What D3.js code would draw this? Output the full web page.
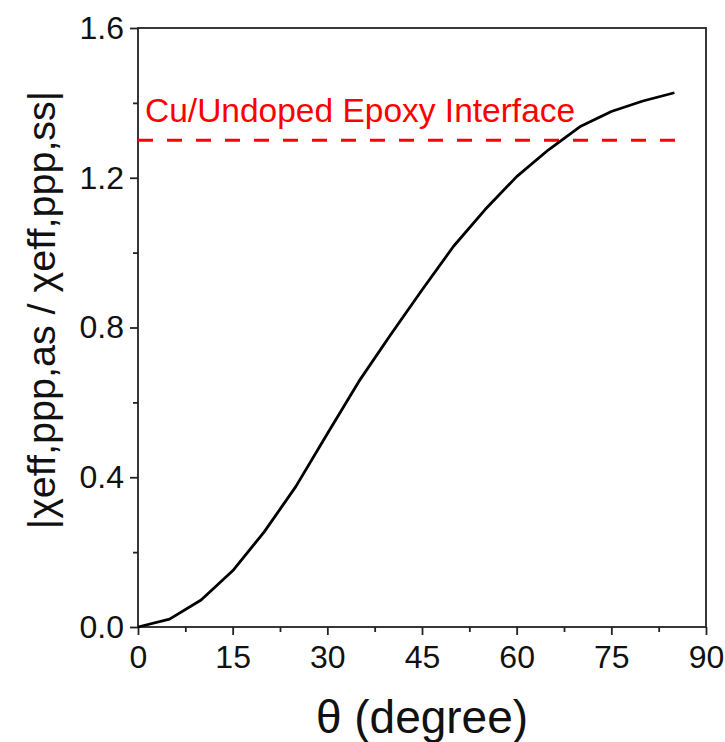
<!DOCTYPE html>
<html lang="en">
    <head>
        <meta charset="utf-8">
        <title>Ratio vs angle</title>
        <script type="text/javascript" src="https://cdn.jsdelivr.net/npm/d3@7"></script>
        <style>
        body { margin: 0; background: #fff; }
        text { font-family: "Liberation Sans", Arial, sans-serif; }
        .axis path { display: none; }
        .axis line { stroke: #222; stroke-width: 1.8; }
        .axis text { font-size: 32px; fill: #111; }
        </style>
    </head>
    <body>
        <script type="text/javascript">
            // curve, every 5 degrees
            var theta = [0, 5, 10, 15, 20, 25, 30, 35, 40, 45, 50, 55, 60, 65, 70, 75, 80, 85];
            var ratio = [0, 0.021, 0.072, 0.150, 0.254, 0.375, 0.516, 0.656, 0.780, 0.900,
                         1.017, 1.115, 1.203, 1.274, 1.336, 1.377, 1.405, 1.427];
            var xTicks = [0, 15, 30, 45, 60, 75, 90];
            var yTicks = [0, 0.4, 0.8, 1.2, 1.6];
            var interfaceLevel = 1.3;
            var interfaceEnd = 86.5;
            var interfaceLabel = "Cu/Undoped Epoxy Interface";

            var w = 725;
            var h = 742;
            // plot box edges (note: "top" is reserved on window)
            var plotLeft = 138, plotRight = 706, plotTop = 28, plotBottom = 627;

            var svg = d3.select("body")
                        .append("svg")
                        .attr("width", w)
                        .attr("height", h);

            var xScale = d3.scaleLinear()
                           .domain([0, 90])
                           .range([plotLeft, plotRight]);

            var yScale = d3.scaleLinear()
                           .domain([0, 1.6])
                           .range([plotBottom, plotTop]);

            // minor ticks (halfway between majors)
            var xMinor = d3.range(7.5, 90, 15);
            var yMinor = d3.range(0.2, 1.6, 0.4);

            svg.append("g")
               .attr("class", "axis")
               .attr("transform", "translate(0," + plotBottom + ")")
               .call(d3.axisBottom(xScale).tickValues(xMinor).tickSize(5).tickFormat(""));

            svg.append("g")
               .attr("class", "axis")
               .attr("transform", "translate(" + plotLeft + ",0)")
               .call(d3.axisLeft(yScale).tickValues(yMinor).tickSize(5).tickFormat(""));

            var xAxis = d3.axisBottom(xScale)
                          .tickValues(xTicks)
                          .tickSize(8)
                          .tickPadding(10)
                          .tickFormat(d3.format("d"));

            svg.append("g")
               .attr("class", "axis")
               .attr("transform", "translate(0," + plotBottom + ")")
               .call(xAxis);

            var yAxis = d3.axisLeft(yScale)
                          .tickValues(yTicks)
                          .tickSize(8)
                          .tickPadding(6)
                          .tickFormat(d3.format(".1f"));

            svg.append("g")
               .attr("class", "axis")
               .attr("transform", "translate(" + plotLeft + ",0)")
               .call(yAxis);

            // frame
            svg.append("rect")
               .attr("x", plotLeft)
               .attr("y", plotTop)
               .attr("width", plotRight - plotLeft)
               .attr("height", plotBottom - plotTop)
               .attr("fill", "none")
               .attr("stroke", "#222")
               .attr("stroke-width", 1.8);

            // interface reference line
            svg.append("line")
               .attr("x1", xScale(0))
               .attr("x2", xScale(interfaceEnd))
               .attr("y1", yScale(interfaceLevel))
               .attr("y2", yScale(interfaceLevel))
               .attr("stroke", "#ff0000")
               .attr("stroke-width", 3)
               .attr("stroke-dasharray", "15,14");

            svg.append("text")
               .attr("x", xScale(0) + 7)
               .attr("y", 122)
               .attr("fill", "#ff0000")
               .style("font-size", "33.5px")
               .text(interfaceLabel);

            var line = d3.line()
                         .x(function(d, i) { return xScale(theta[i]); })
                         .y(function(d) { return yScale(d); });

            svg.append("path")
               .datum(ratio)
               .attr("d", line)
               .attr("fill", "none")
               .attr("stroke", "#000")
               .attr("stroke-width", 2.8)
               .attr("stroke-linejoin", "round");

            // axis titles
            svg.append("text")
               .attr("x", (plotLeft + plotRight) / 2)
               .attr("y", 733)
               .attr("text-anchor", "middle")
               .style("font-size", "46px")
               .attr("fill", "#111")
               .text("\u03b8 (degree)");

            svg.append("text")
               .attr("transform", "translate(55,310) rotate(-90)")
               .attr("text-anchor", "middle")
               .style("font-size", "39.5px")
               .attr("fill", "#111")
               .text("|\u03c7eff,ppp,as / \u03c7eff,ppp,ss|");
        </script>
    </body>
</html>
